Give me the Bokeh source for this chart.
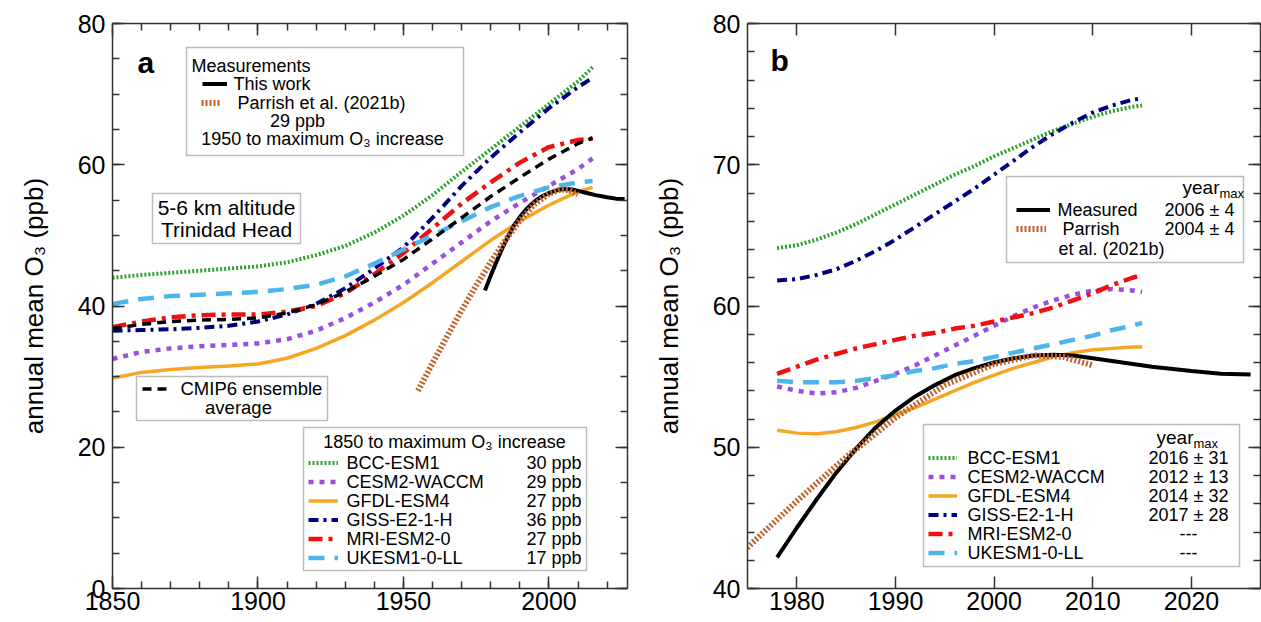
from bokeh.plotting import figure
from bokeh.layouts import row
from bokeh.models import (Range1d, FixedTicker, LinearAxis, Legend, LegendItem,
                          Label, BoxAnnotation)
from bokeh.embed import file_html
from bokeh.resources import INLINE

FONT = "Liberation Sans"

# ---------------- data : panel a (1850 - 2015, CMIP6 models) ----------------
years_a = [1850, 1860, 1870, 1880, 1890, 1900, 1910, 1920, 1930, 1940,
           1950, 1960, 1970, 1980, 1990, 2000, 2010, 2015]
bcc_a = [44.0, 44.4, 44.7, 45.0, 45.3, 45.6, 46.2, 47.2, 48.5, 50.4,
         52.8, 55.7, 59.0, 62.2, 65.4, 68.6, 71.8, 73.8]
cesm_a = [32.5, 33.5, 34.0, 34.3, 34.5, 34.7, 35.3, 36.5, 38.3, 40.5,
          43.0, 46.0, 49.0, 52.0, 54.6, 57.0, 59.4, 60.9]
gfdl_a = [29.8, 30.6, 31.0, 31.3, 31.5, 31.8, 32.6, 34.0, 35.8, 38.0,
          40.5, 43.3, 46.3, 49.3, 52.0, 54.3, 56.2, 56.8]
giss_a = [36.5, 36.6, 36.7, 36.9, 37.2, 37.8, 38.8, 40.3, 42.5, 45.3,
          48.3, 52.5, 57.0, 61.0, 64.6, 68.0, 71.0, 72.3]
mri_a = [37.0, 37.8, 38.4, 38.7, 38.8, 38.8, 39.2, 40.0, 41.8, 44.5,
         47.5, 51.0, 54.5, 57.5, 60.3, 62.5, 63.5, 63.7]
ukesm_a = [40.3, 41.0, 41.4, 41.6, 41.8, 42.0, 42.4, 43.0, 44.2, 46.0,
           48.0, 50.0, 52.0, 54.0, 55.6, 56.8, 57.5, 57.7]
cmip6_a = [36.8, 37.4, 37.8, 38.0, 38.1, 38.3, 39.0, 40.2, 42.0, 44.2,
           46.6, 49.5, 52.5, 55.5, 58.2, 60.8, 63.0, 63.8]

# ---------------- data : measurements (both panels) ----------------
years_meas = [1978, 1980, 1982, 1984, 1986, 1988, 1990, 1992, 1994, 1996, 1998,
              2000, 2002, 2004, 2006, 2008, 2010, 2013, 2016, 2020, 2023, 2026]
meas = [42.2, 44.3, 46.3, 48.2, 49.9, 51.4, 52.6, 53.6, 54.4, 55.1, 55.6,
        56.0, 56.3, 56.5, 56.55, 56.5, 56.3, 56.0, 55.7, 55.4, 55.2, 55.15]
years_parrish = [1955, 1960, 1965, 1970, 1975, 1980, 1985, 1990, 1995, 2000, 2004, 2007, 2010]
parrish = [28.0, 31.9, 35.7, 39.4, 42.9, 46.2, 49.3, 52.1, 54.4, 55.9, 56.5, 56.4, 55.8]

# ---------------- data : panel b (1978 - 2015, models) ----------------
years_b = [1978, 1980, 1982, 1984, 1986, 1988, 1990, 1992, 1994, 1996,
           1998, 2000, 2002, 2004, 2006, 2008, 2010, 2012, 2014, 2015]
bcc_b = [64.1, 64.3, 64.7, 65.2, 65.8, 66.5, 67.2, 67.9, 68.6, 69.3,
         69.9, 70.6, 71.2, 71.8, 72.4, 72.9, 73.4, 73.8, 74.1, 74.2]
giss_b = [61.8, 61.9, 62.2, 62.6, 63.2, 63.9, 64.7, 65.6, 66.5, 67.4,
          68.3, 69.3, 70.3, 71.3, 72.2, 73.0, 73.7, 74.2, 74.6, 74.7]
cesm_b = [54.3, 54.0, 53.8, 53.9, 54.2, 54.7, 55.2, 55.8, 56.5, 57.2,
          57.9, 58.6, 59.3, 59.9, 60.4, 60.8, 61.1, 61.2, 61.1, 61.0]
gfdl_b = [51.2, 51.0, 50.95, 51.1, 51.4, 51.8, 52.3, 52.8, 53.4, 54.0,
          54.6, 55.1, 55.6, 56.0, 56.4, 56.7, 56.9, 57.0, 57.1, 57.1]
mri_b = [55.2, 55.7, 56.2, 56.6, 57.0, 57.3, 57.6, 57.9, 58.1, 58.4,
         58.6, 58.9, 59.2, 59.5, 59.9, 60.4, 60.9, 61.5, 62.0, 62.2]
ukesm_b = [54.7, 54.6, 54.6, 54.6, 54.7, 54.9, 55.1, 55.4, 55.6, 55.9,
           56.1, 56.4, 56.7, 57.0, 57.3, 57.6, 57.9, 58.3, 58.6, 58.8]

# ---------------- legend texts ----------------
model_names = ["BCC-ESM1", "CESM2-WACCM", "GFDL-ESM4", "GISS-E2-1-H", "MRI-ESM2-0", "UKESM1-0-LL"]
increase_1850 = ["30 ppb", "29 ppb", "27 ppb", "36 ppb", "27 ppb", "17 ppb"]
year_max_models = ["2016 ± 31", "2012 ± 13", "2014 ± 32", "2017 ± 28", "---", "---"]
meas_names_a = ["This work", "Parrish et al. (2021b)"]
meas_names_b = ["Measured", "Parrish"]
year_max_meas = ["2006 ± 4", "2004 ± 4"]

# ---------------- styles ----------------
STY = {
    "bcc": dict(line_color="#2ca02c", line_width=4, line_dash="2 2"),
    "cesm": dict(line_color="#9a4fe0", line_width=4.5, line_dash="5 6"),
    "gfdl": dict(line_color="#f6a623", line_width=3.5),
    "giss": dict(line_color="#00007f", line_width=4, line_dash="10 5 3 5"),
    "mri": dict(line_color="#ee1111", line_width=4.5, line_dash="14 6 4 6"),
    "ukesm": dict(line_color="#4cb6ec", line_width=4.5, line_dash="16 10"),
    "cmip6": dict(line_color="black", line_width=3.5, line_dash="9 6"),
    "meas": dict(line_color="black", line_width=4),
    "parrish": dict(line_color="#c0622a", line_width=6, line_dash="2 2"),
}

FRAME_TOP = 23
FRAME_H = 565
FRAME_BOTTOM = FRAME_TOP + FRAME_H
A_LEFT = 112
B_LEFT = 747
AXC = "#333333"
TXT = "18px"


def make_fig(xr, yr, left_border, frame_w, right_border):
    p = figure(x_range=Range1d(*xr), y_range=Range1d(*yr),
               frame_width=frame_w, frame_height=FRAME_H,
               min_border_left=left_border, min_border_right=right_border,
               min_border_top=FRAME_TOP, min_border_bottom=34,
               toolbar_location=None, output_backend="svg")
    p.xgrid.visible = False
    p.ygrid.visible = False
    p.outline_line_color = None
    return p


def style_axes(p, xmaj, xmin, ymaj, ymin):
    xb = p.xaxis[0]
    yl = p.yaxis[0]
    xb.ticker = FixedTicker(ticks=xmaj, minor_ticks=xmin)
    yl.ticker = FixedTicker(ticks=ymaj, minor_ticks=ymin)
    xt = LinearAxis(ticker=FixedTicker(ticks=xmaj, minor_ticks=xmin))
    yr = LinearAxis(ticker=FixedTicker(ticks=ymaj, minor_ticks=ymin))
    p.add_layout(xt, "above")
    p.add_layout(yr, "right")
    for ax in (xb, yl, xt, yr):
        ax.major_tick_in = 12
        ax.major_tick_out = 0
        ax.minor_tick_in = 7
        ax.minor_tick_out = 0
        ax.axis_line_color = AXC
        ax.axis_line_width = 1.5
        ax.major_tick_line_color = AXC
        ax.major_tick_line_width = 1.5
        ax.minor_tick_line_color = AXC
        ax.minor_tick_line_width = 1.5
        ax.major_label_text_font = FONT
        ax.major_label_text_font_size = "25px"
        ax.major_label_text_color = "black"
    for ax, ticks in ((xt, xmaj), (yr, ymaj)):
        ax.major_label_overrides = {t: "" for t in ticks}
        ax.major_label_text_font_size = "1px"
        ax.major_label_standoff = 0
    xb.major_label_standoff = 3
    yl.major_label_standoff = 7
    yl.axis_label = "annual mean O₃ (ppb)"
    yl.axis_label_text_font = FONT
    yl.axis_label_text_font_size = "26px"
    yl.axis_label_text_font_style = "normal"
    yl.axis_label_text_color = "black"
    yl.axis_label_standoff = 26


def lab(p, left, x_img, y_img, text, size=TXT, align="left", bold=False):
    p.add_layout(Label(x=x_img - left, y=FRAME_BOTTOM - y_img,
                       x_units="screen", y_units="screen", text=text,
                       text_font=FONT, text_font_size=size, text_align=align,
                       text_baseline="middle", text_color="black",
                       text_font_style="bold" if bold else "normal"))


def box(p, left, l_img, t_img, r_img, b_img):
    p.add_layout(BoxAnnotation(left=l_img - left, right=r_img - left,
                               top=FRAME_BOTTOM - t_img, bottom=FRAME_BOTTOM - b_img,
                               left_units="screen", right_units="screen",
                               top_units="screen", bottom_units="screen",
                               fill_color="white", fill_alpha=1.0,
                               line_color="#222222", line_width=1.5, level="annotation"))


def legend(p, left, names, renderers, x0_img, first_row_img, glyph_w, standoff,
           pitch=19, size=TXT):
    """Line samples drawn by a Bokeh Legend; the entry names as text labels on the same rows."""
    n = len(renderers)
    bottom_img = first_row_img - pitch / 2 + n * pitch
    leg = Legend(items=[LegendItem(label=" ", renderers=[r]) for r in renderers],
                 location=(x0_img - left, FRAME_BOTTOM - bottom_img),
                 orientation="vertical", border_line_alpha=0, background_fill_alpha=0,
                 padding=0, margin=0, spacing=0, glyph_width=glyph_w,
                 glyph_height=pitch, label_height=pitch, label_standoff=0,
                 label_width=1, label_text_font=FONT, label_text_font_size="1px")
    p.add_layout(leg)
    for i, name in enumerate(names):
        lab(p, left, x0_img + glyph_w + standoff, first_row_img + pitch * i, name, size=size)


# =============================== panel a ===============================
pa = make_fig((1850, 2027), (0, 80), A_LEFT, 515, 13)
style_axes(pa, [1850, 1900, 1950, 2000], list(range(1860, 2030, 10)),
           [0, 20, 40, 60, 80], list(range(0, 81, 5)))

ra = {}
for key, ys in (("bcc", bcc_a), ("cesm", cesm_a), ("gfdl", gfdl_a), ("giss", giss_a),
                ("mri", mri_a), ("ukesm", ukesm_a), ("cmip6", cmip6_a)):
    ra[key] = pa.line(years_a, ys, **STY[key])
ra["meas"] = pa.line(years_meas, meas, **STY["meas"])
ra["parrish"] = pa.line(years_parrish, parrish, **STY["parrish"])

lab(pa, A_LEFT, 137, 62, "a", size="30px", bold=True)

# measurements box
box(pa, A_LEFT, 186, 47, 463, 155)
lab(pa, A_LEFT, 191, 65, "Measurements")
legend(pa, A_LEFT, [meas_names_a[0]], [ra["meas"]], 202, 83, 25, 6)
legend(pa, A_LEFT, [meas_names_a[1]], [ra["parrish"]], 201, 102, 19, 17)
lab(pa, A_LEFT, 297, 120, "29 ppb", align="center")
lab(pa, A_LEFT, 322, 138, "1950 to maximum O₃ increase", align="center")

# site box
box(pa, A_LEFT, 152, 193, 300, 243)
lab(pa, A_LEFT, 226, 207, "5-6 km altitude", size="21px", align="center")
lab(pa, A_LEFT, 226, 229, "Trinidad Head", size="21px", align="center")

# CMIP6 box
box(pa, A_LEFT, 136, 376, 327, 420)
legend(pa, A_LEFT, ["CMIP6 ensemble"], [ra["cmip6"]], 142, 388, 25, 13, size="18.5px")
lab(pa, A_LEFT, 238, 407, "average", size="18.5px", align="center")

# model legend box
box(pa, A_LEFT, 303, 427, 586, 570)
lab(pa, A_LEFT, 444, 441, "1850 to maximum O₃ increase", align="center")
model_keys = ["bcc", "cesm", "gfdl", "giss", "mri", "ukesm"]
legend(pa, A_LEFT, model_names, [ra[k] for k in model_keys], 308, 462, 30, 8)
for i, v in enumerate(increase_1850):
    lab(pa, A_LEFT, 581, 462 + 19 * i, v, align="right")

# =============================== panel b ===============================
pb = make_fig((1975, 2027), (40, 80), 107, 513, 1)
style_axes(pb, [1980, 1990, 2000, 2010, 2020], [],
           [40, 50, 60, 70, 80], list(range(40, 81, 2)))

rb = {}
for key, ys in (("bcc", bcc_b), ("cesm", cesm_b), ("gfdl", gfdl_b), ("giss", giss_b),
                ("mri", mri_b), ("ukesm", ukesm_b)):
    rb[key] = pb.line(years_b, ys, **STY[key])
rb["meas"] = pb.line(years_meas, meas, **STY["meas"])
rb["parrish"] = pb.line(years_parrish, parrish, **STY["parrish"])

lab(pb, B_LEFT, 770, 60, "b", size="30px", bold=True)

# measurement legend box
box(pb, B_LEFT, 1006, 176, 1243, 262)
lab(pb, B_LEFT, 1182, 187, "year", size="19px")
lab(pb, B_LEFT, 1219, 193, "max", size="13px")
legend(pb, B_LEFT, [meas_names_b[0]], [rb["meas"]], 1016, 209, 34, 7)
legend(pb, B_LEFT, [meas_names_b[1]], [rb["parrish"]], 1016, 228, 30, 16)
for i, v in enumerate(year_max_meas):
    lab(pb, B_LEFT, 1234, 209 + 19 * i, v, align="right")
lab(pb, B_LEFT, 1058, 248, "et al. (2021b)")

# model legend box
box(pb, B_LEFT, 923, 424, 1239, 566)
lab(pb, B_LEFT, 1156, 437, "year", size="19px")
lab(pb, B_LEFT, 1193, 443, "max", size="13px")
legend(pb, B_LEFT, model_names, [rb[k] for k in model_keys], 928, 457, 29, 10)
for i, v in enumerate(year_max_models):
    lab(pb, B_LEFT, 1188, 457 + 19 * i, v, align="center")

layout = row(pa, pb)
open("out.html", "w").write(file_html(layout, INLINE))
